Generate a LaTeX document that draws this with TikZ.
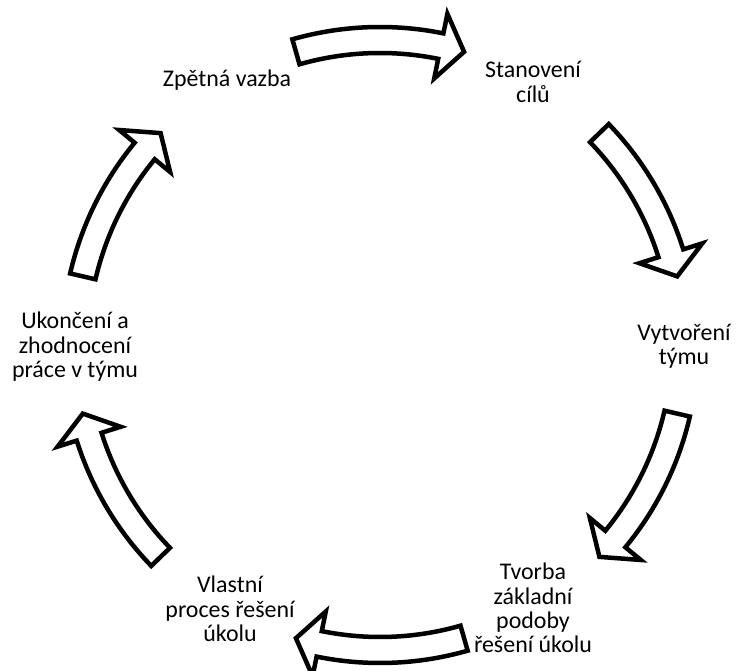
\documentclass[tikz,border=0pt]{standalone}
\usepackage{fontspec}
\setmainfont{Carlito}
\tikzset{
  blockarrow/.style={draw=black, fill=white, line width=4.5bp, line join=miter},
  cycletext/.style={align=center, font=\fontsize{24}{24.5}\selectfont, inner sep=0pt}
}
% curved block arrow on the circle, from angle #1 to angle #2 (clockwise)
\newcommand{\cyclearrow}[2]{%
  \draw[blockarrow] (#1:318) arc[start angle=#1, end angle=#2+4.5, radius=318]
    -- ({#2+4.5}:338) -- (#2:305) -- ({#2+4.5}:272) -- ({#2+4.5}:292)
    arc[start angle=#2+4.5, end angle=#1, radius=292] -- cycle;}
\begin{document}
\begin{tikzpicture}[x=1bp,y=1bp]
    \useasboundingbox (0,0) rectangle (737,671);

    \node[cycletext] (stanoveni) at (533,589) {Stanovení\\cílů};
    \node[cycletext] (vytvoreni) at (684,325) {Vytvoření\\týmu};
    \node[cycletext] (tvorba) at (533,63) {Tvorba\\základní\\podoby\\řešení úkolu};
    \node[cycletext] (vlastni) at (230,62) {Vlastní\\proces řešení\\úkolu};
    \node[cycletext] (ukonceni) at (75,324) {Ukončení a\\zhodnocení\\práce v týmu};
    \node[cycletext] (zpetna) at (227,591) {Zpětná vazba};

    \begin{scope}[shift={(380,326)}]
        \foreach \s/\e in {106/74,44/13,-13/-44,-74/-106,-136/-167,167/136}
            {\cyclearrow{\s}{\e}}
    \end{scope}
\end{tikzpicture}
\end{document}
